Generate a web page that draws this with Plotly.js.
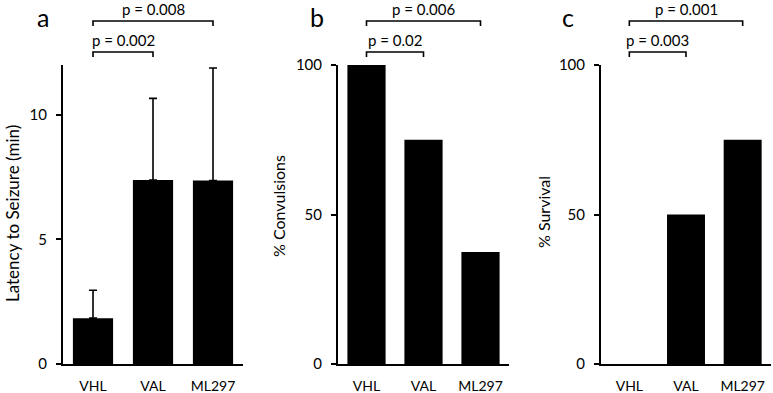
<!DOCTYPE html>
<html>
<head>
<meta charset="utf-8">
<script src="https://cdn.plot.ly/plotly-3.0.1.min.js"></script>
<style>html,body{margin:0;padding:0;background:#fff;}#chart{width:773px;height:393px;}</style>
</head>
<body>
<div id="chart"></div>
<script>
const groups = ["VHL", "VAL", "ML297"];
const latency = [1.84, 7.38, 7.36];
const latencyErr = [1.12, 3.28, 4.52];
const convulsions = [100, 75, 37.5];
const survival = [0, 50, 75];
const panelLabels = ["a", "b", "c"];
const yTitles = ["Latency to Seizure (min)", "% Convulsions", "% Survival"];
const pTop = ["p = 0.008", "p = 0.006", "p = 0.001"];
const pLow = ["p = 0.002", "p = 0.02", "p = 0.003"];

const W = 773, H = 393;
const FONT = "Lato, 'Open Sans', sans-serif";
const px = v => v / W;
const py = v => 1 - v / H;

const xDomains = [[px(63), px(243)], [px(338), px(509)], [px(601), px(771)]];
const yDomain = [py(364), py(65)];

const idx = groups.map((g, i) => i);
const traces = [
  {type: "bar", x: idx, y: latency, xaxis: "x", yaxis: "y", marker: {color: "#000"},
   error_y: {type: "data", symmetric: false, array: latencyErr, arrayminus: [0, 0, 0], color: "#000", thickness: 1.6, width: 4}},
  {type: "bar", x: idx, y: convulsions, xaxis: "x2", yaxis: "y2", marker: {color: "#000"}},
  {type: "bar", x: idx, y: survival, xaxis: "x3", yaxis: "y3", marker: {color: "#000"}}
];

function xax(d) {
  return {domain: d, range: [-0.5, 2.5], tickmode: "array", tickvals: idx, ticktext: groups,
    showline: true, linecolor: "#000", linewidth: 2, ticks: "", showgrid: false, zeroline: false,
    tickfont: {family: FONT, size: 14, color: "#000"}, ticklabelstandoff: 8, fixedrange: true};
}
function yax(anchor, range, dtick) {
  return {domain: yDomain, anchor: anchor, range: range, dtick: dtick, showline: true, linecolor: "#000", linewidth: 2,
    ticks: "outside", ticklen: 5, tickwidth: 2, tickcolor: "#000", showgrid: false, zeroline: false,
    tickfont: {family: FONT, size: 15, color: "#000"}, ticklabelstandoff: 6, fixedrange: true};
}

const shapes = [];
const annotations = [];
const xrefs = ["x", "x2", "x3"];
const labelX = [43, 317, 568];
const titleX = [12, 278, 543];
const titleY = [214, 206, 212];
const titleSize = [17, 16, 16];
for (let k = 0; k < 3; k++) {
  shapes.push({type: "path", xref: xrefs[k], yref: "paper",
    path: `M 0,${py(26)} L 0,${py(21)} L 2,${py(21)} L 2,${py(26)}`, line: {color: "#000", width: 1.6}});
  shapes.push({type: "path", xref: xrefs[k], yref: "paper",
    path: `M 0,${py(57)} L 0,${py(52)} L 1,${py(52)} L 1,${py(57)}`, line: {color: "#000", width: 1.6}});
  annotations.push({xref: xrefs[k], yref: "paper", x: 1, y: py(9), text: pTop[k], showarrow: false,
    font: {family: FONT, size: 15, color: "#000"}, yanchor: "middle"});
  annotations.push({xref: xrefs[k], yref: "paper", x: 0.5, y: py(40), text: pLow[k], showarrow: false,
    font: {family: FONT, size: 15, color: "#000"}, yanchor: "middle"});
  annotations.push({xref: "paper", yref: "paper", x: px(labelX[k]), y: py(17), text: panelLabels[k], showarrow: false,
    font: {family: FONT, size: 25, color: "#000"}, yanchor: "middle", xanchor: "center"});
  annotations.push({xref: "paper", yref: "paper", x: px(titleX[k]), y: py(titleY[k]), text: yTitles[k], showarrow: false,
    textangle: -90, font: {family: FONT, size: titleSize[k], color: "#000"}, yanchor: "middle", xanchor: "center"});
}

const layout = {
  width: W, height: H, margin: {l: 0, r: 0, t: 0, b: 0}, showlegend: false,
  paper_bgcolor: "#fff", plot_bgcolor: "#fff", bargap: 0.33,
  xaxis: Object.assign(xax(xDomains[0]), {anchor: "y"}),
  xaxis2: Object.assign(xax(xDomains[1]), {anchor: "y2"}),
  xaxis3: Object.assign(xax(xDomains[2]), {anchor: "y3"}),
  yaxis: yax("x", [0, 12], 5),
  yaxis2: yax("x2", [0, 100], 50),
  yaxis3: yax("x3", [0, 100], 50),
  shapes: shapes, annotations: annotations
};
Plotly.newPlot("chart", traces, layout, {staticPlot: true, displayModeBar: false});
</script>
</body>
</html>
